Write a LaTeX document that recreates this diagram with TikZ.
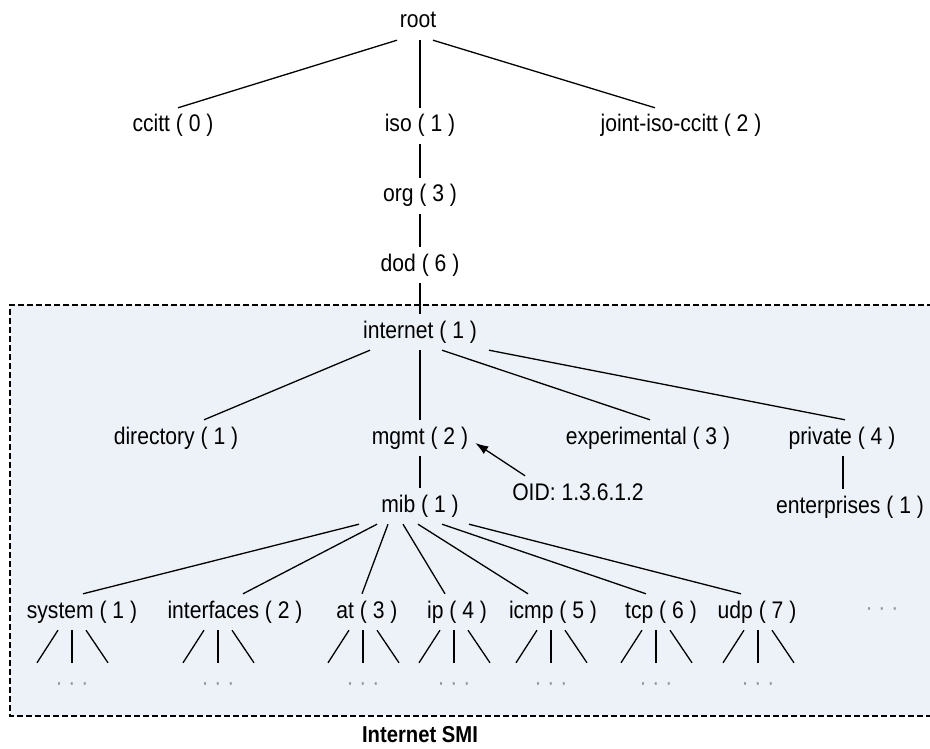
\documentclass[tikz,border=0pt]{standalone}
\usepackage{fontspec}
\setmainfont{Liberation Sans}[FakeStretch=0.88]
\usetikzlibrary{arrows.meta,positioning}
\definecolor{smiblue}{RGB}{237,242,249}
\definecolor{dotgray}{RGB}{150,150,150}

\begin{document}
\begin{tikzpicture}[
  x=1pt, y=-1pt,
  every node/.style={font=\fontsize{24}{26}\selectfont},
  oid/.style={inner xsep=2pt, inner ysep=7pt, text height=17pt, text depth=5pt},
  more/.style={text=dotgray, inner sep=0pt, minimum height=48pt},
  branch/.style={line width=1.3pt},
  arr/.style={-{Latex[length=13pt,width=9pt]}, line width=1.3pt}
]
\useasboundingbox (0,0) rectangle (930,749);
\clip (0,0) rectangle (930,749);

% Internet SMI subtree frame
\fill[smiblue] (10,305) rectangle (960,716);
\draw[line width=1.2pt, dash pattern=on 6pt off 3pt] (960,305) -- (10,305) -- (10,716) -- (960,716);
\node[font=\fontsize{23}{25}\selectfont\bfseries] (smi) at (420,735) {Internet SMI};

% upper levels
\node[oid] (root) at (418,22) {root};
\node[oid] (ccitt) at (173,126) {ccitt ( 0 )};
\node[oid] (iso) at (420,126) {iso ( 1 )};
\node[oid] (joint) at (681,126) {joint-iso-ccitt ( 2 )};
\node[oid] (org) at (420,196) {org ( 3 )};
\node[oid] (dod) at (420,265) {dod ( 6 )};
\node[oid] (internet) at (420,332) {internet ( 1 )};

\node[oid] (directory) at (176,438) {directory ( 1 )};
\node[oid] (mgmt) at (420,438) {mgmt ( 2 )};
\node[oid] (experimental) at (648,438) {experimental ( 3 )};
\node[oid] (private) at (842,438) {private ( 4 )};

\node[oid] (mib) at (420,506) {mib ( 1 )};
\node[oid] (enterprises) at (850,507) {enterprises ( 1 )};
\node[oid] (oidlabel) at (578,494) {OID: 1.3.6.1.2};

% mib groups
\node[oid] (system) at (82,612) {system ( 1 )};
\node[oid] (interfaces) at (235,612) {interfaces ( 2 )};
\node[oid] (at) at (367,612) {at ( 3 )};
\node[oid] (ip) at (457,612) {ip ( 4 )};
\node[oid] (icmp) at (553,612) {icmp ( 5 )};
\node[oid] (tcp) at (661,612) {tcp ( 6 )};
\node[oid] (udp) at (757,612) {udp ( 7 )};
\node[more, minimum height=0pt] (rest) at (882,612) {· · ·};

% connectors
\draw[branch] ([xshift=-21pt]root.south) -- ([xshift=5pt]ccitt.north);
\draw[branch] (iso.north |- root.south) -- (iso.north);
\draw[branch] ([xshift=15pt]root.south) -- ([xshift=-26pt]joint.north);
\draw[branch] (iso) -- (org);
\draw[branch] (org) -- (dod);
\draw[branch] (dod) -- (internet);

\draw[branch] ([xshift=-50pt]internet.south) -- ([xshift=28pt]directory.north);
\draw[branch] (internet) -- (mgmt);
\draw[branch] ([xshift=22pt]internet.south) -- ([xshift=2pt]experimental.north);
\draw[branch] ([xshift=69pt]internet.south) -- ([xshift=3pt]private.north);

\draw[branch] (mgmt) -- (mib);
\draw[branch] ([xshift=1pt]private.south) -- ([xshift=1pt]private.south |- enterprises.north);
\draw[arr] ([xshift=15pt]oidlabel.north west) -- ([xshift=5pt,yshift=-5pt]mgmt.east);

\foreach \c/\s/\e in {system/-61/1, interfaces/-43/8, at/-32/-5, ip/-17/-12,
                      icmp/-2/-25, tcp/22/-15, udp/49/-16}
  \draw[branch] ([xshift=\s pt]mib.south) -- ([xshift=\e pt]\c.north);

% unexpanded subtrees
\foreach \c/\v in {system/72, interfaces/218, at/363, ip/454, icmp/551, tcp/656, udp/758} {
  \node[more] (\c-more) at (\v,687) {· · ·};
  \coordinate (\c-fork) at (\c.south -| \c-more.north);
  \draw[branch] (\c-fork) -- (\c-more.north);
  \draw[branch] ([xshift=-14pt]\c-fork) -- ([xshift=-35pt]\c-more.north);
  \draw[branch] ([xshift=14pt]\c-fork) -- ([xshift=36pt]\c-more.north);
}
\end{tikzpicture}
\end{document}
